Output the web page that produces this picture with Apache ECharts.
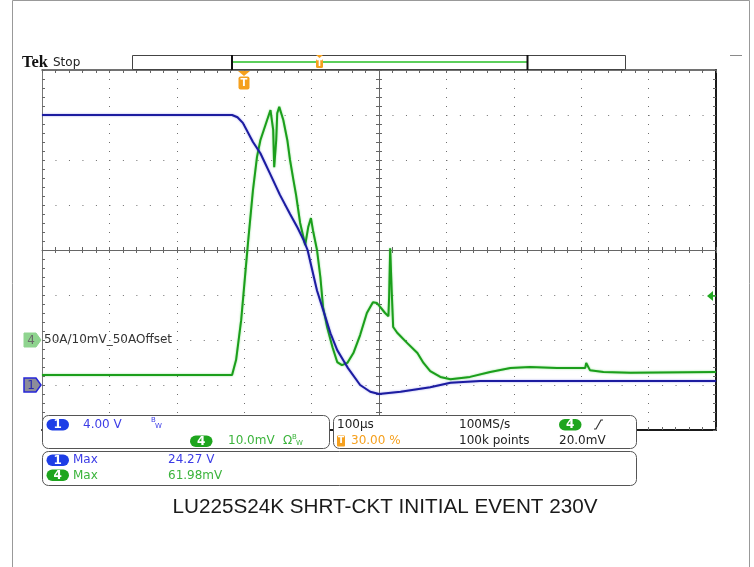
<!DOCTYPE html>
<html>
<head>
<meta charset="UTF-8">
<title>LU225S24K SHRT-CKT INITIAL EVENT 230V</title>
<script src="https://cdn.jsdelivr.net/npm/echarts@6/dist/echarts.min.js"></script>
<style>
  html, body { margin: 0; padding: 0; background: #fff; }
  #chartArea { width: 754px; height: 567px; }
</style>
</head>
<body>
<div id="chartArea"></div>
<script type="text/javascript">
// time in microseconds, 0 = trigger point (30 % of record)
var ch1Time = [-300, -18, -10, -2, 13, 24, 39, 53, 68, 79, 88, 94, 101, 108, 117, 128, 138, 147, 154, 172, 187, 200, 232, 276, 306, 350, 424, 700];
// CH1 volts (4.00 V/div)
var ch1Volt = [24.0, 24.0, 23.8, 23.3, 21.6, 20.6, 18.7, 16.9, 15.2, 14.0, 12.9, 12.0, 10.2, 8.4, 6.7, 4.6, 3.1, 2.2, 1.5, 0.0, -0.6, -0.8, -0.6, -0.2, 0.2, 0.36, 0.36, 0.36];

var ch4Time = [-300, -18, -12, -4.5, 6, 13, 19, 24, 34, 39, 41.5, 43, 44.5, 47.5, 49, 52, 58, 64, 68, 73, 77, 83, 90.5, 95, 99, 102, 108, 113, 117, 123, 131, 138, 145, 153, 162, 172, 182, 191, 197, 202, 209, 214, 215, 216.6, 218.8, 221, 227, 242, 257, 266, 276, 291, 306, 335, 365, 395, 424, 464, 506, 507.4, 513, 533, 573, 700];
// CH4 millivolts (10.0 mV/div)
var ch4mV = [-7.8, -7.8, -4.4, 4.4, 22.2, 33.3, 40.7, 44.4, 48.9, 51.1, 51.3, 46.7, 38.4, 44.4, 50.4, 51.8, 48.9, 44.4, 40.0, 35.6, 32.2, 26.0, 21.1, 25.1, 27.1, 24.4, 20.0, 14.0, 7.3, 2.9, -1.6, -4.9, -5.6, -5.1, -2.9, 1.1, 6.0, 8.4, 8.2, 7.3, 6.0, 5.3, 9.6, 20.4, 11.1, 2.9, 1.6, -0.7, -2.9, -5.1, -6.9, -8.2, -8.7, -8.2, -7.1, -6.2, -6.0, -6.2, -6.2, -5.1, -6.7, -7.1, -7.3, -7.1];

var ch1Scale = 4;    // V/div
var ch1Pos = -3;     // ground marker, divisions from centre
var ch4Scale = 10;   // mV/div
var ch4Pos = -2;

var titleText = 'LU225S24K SHRT-CKT INITIAL EVENT 230V';
var probeLabel = '50A/10mV_50AOffset';

var ch1Data = ch1Time.map(function(t, i) { return [t, ch1Volt[i] / ch1Scale + ch1Pos]; });
var ch4Data = ch4Time.map(function(t, i) { return [t, ch4mV[i] / ch4Scale + ch4Pos]; });

var FONT = 'DejaVu Sans, sans-serif';
var BLUE_TXT = '#3c3ce6';
var GREEN_TXT = '#3cb43c';
var ORANGE = '#f5a01e';

function txt(x, y, s, color, size, extra) {
	var st = { text: s, fill: color, font: (size || 12) + 'px ' + FONT, verticalAlign: 'middle', align: 'left' };
	if (extra) for (var k in extra) st[k] = extra[k];
	return { type: 'text', x: x, y: y, z: 110, style: st };
}
function pill(x, y, w, h, color, label) {
	return [
		{ type: 'rect', z: 110, shape: { x: x, y: y, width: w, height: h, r: h / 2 }, style: { fill: color } },
		txt(x + w / 2, y + h / 2 + 0.5, label, '#fff', 12, { align: 'center', font: 'bold 12px ' + FONT })
	];
}
function box(x, y, w, h) {
	return { type: 'rect', z: 105, shape: { x: x, y: y, width: w, height: h, r: 6 }, style: { fill: '#fff', stroke: '#555', lineWidth: 1 } };
}

var graphics = [
	// outer frame
	{ type: 'polyline', z: 100, shape: { points: [[12.5, 567], [12.5, 0.5], [749.5, 0.5], [749.5, 567]] }, style: { stroke: '#999', lineWidth: 1, fill: null } },
	{ type: 'line', z: 100, shape: { x1: 730, y1: 55.5, x2: 742, y2: 55.5 }, style: { stroke: '#8a8a8a', lineWidth: 1 } },
	// header
	{ type: 'text', x: 22, y: 63, z: 110, style: { text: 'Tek', fill: '#111', font: 'bold 16.5px Liberation Serif, serif', verticalAlign: 'middle' } },
	txt(53, 63, 'Stop', '#222', 12),
	// record bar
	{ type: 'rect', z: 100, shape: { x: 132.5, y: 55.5, width: 493, height: 14 }, style: { fill: '#fff', stroke: '#444', lineWidth: 1 } },
	{ type: 'line', z: 101, shape: { x1: 232, y1: 62, x2: 527, y2: 62 }, style: { stroke: '#5ccf5c', lineWidth: 2 } },
	{ type: 'line', z: 101, shape: { x1: 232, y1: 55, x2: 232, y2: 70 }, style: { stroke: '#111', lineWidth: 2 } },
	{ type: 'line', z: 101, shape: { x1: 527.5, y1: 55, x2: 527.5, y2: 70 }, style: { stroke: '#111', lineWidth: 2 } },
	{ type: 'polygon', z: 102, shape: { points: [[316, 55], [323, 55], [319.5, 58]] }, style: { fill: ORANGE } },
	{ type: 'rect', z: 102, shape: { x: 316, y: 59, width: 7, height: 9, r: 1.5 }, style: { fill: ORANGE } },
	txt(319.5, 63.5, 'T', '#fff', 8, { align: 'center', font: 'bold 8px ' + FONT }),
	// trigger position marker
	{ type: 'polygon', z: 102, shape: { points: [[238, 71], [250, 71], [244, 76]] }, style: { fill: ORANGE } },
	{ type: 'rect', z: 102, shape: { x: 238.5, y: 76.5, width: 11, height: 13, r: 2 }, style: { fill: ORANGE } },
	txt(244, 83, 'T', '#fff', 10, { align: 'center', font: 'bold 10px ' + FONT }),
	// channel markers on the left
	{ type: 'polygon', z: 102, shape: { points: [[24, 333], [36, 333], [41, 340], [36, 347], [24, 347]] }, style: { fill: '#8fd48f', stroke: '#8fd48f' } },
	txt(31, 340.5, '4', '#6a6a6a', 12, { align: 'center' }),
	txt(44, 340, probeLabel, '#333', 12),
	{ type: 'polygon', z: 102, shape: { points: [[24, 378], [36, 378], [41, 385], [36, 392], [24, 392]] }, style: { fill: '#8c8c9a', stroke: '#2626d8', lineWidth: 1.5 } },
	txt(31, 385.5, '1', '#2a2ab0', 12, { align: 'center' }),
	// trigger level arrow on the right
	{ type: 'polygon', z: 102, shape: { points: [[707, 296], [713, 291], [713, 301]] }, style: { fill: '#22aa22' } },
	{ type: 'line', z: 102, shape: { x1: 712, y1: 296, x2: 716, y2: 296 }, style: { stroke: '#22aa22', lineWidth: 1.5 } },
	// info boxes
	box(42.5, 415.5, 287, 33),
	box(333.5, 415.5, 303, 33),
	box(42.5, 451.5, 594, 34),
	txt(83, 424.5, '4.00 V', BLUE_TXT, 12),
	txt(151, 420.5, 'B', BLUE_TXT, 7),
	txt(155, 426.5, 'W', BLUE_TXT, 7),
	txt(228, 441, '10.0mV', GREEN_TXT, 12),
	txt(283, 441, 'Ω', GREEN_TXT, 12),
	txt(292, 437.5, 'B', GREEN_TXT, 7),
	txt(296, 443.5, 'W', GREEN_TXT, 7),
	txt(337, 424.5, '100µs', '#222', 12),
	{ type: 'rect', z: 110, shape: { x: 337, y: 435.5, width: 8, height: 11, r: 1 }, style: { fill: ORANGE } },
	txt(341, 441, 'T', '#fff', 9, { align: 'center', font: 'bold 9px ' + FONT }),
	txt(351, 441, '30.00 %', ORANGE, 12),
	txt(459, 424.5, '100MS/s', '#222', 12),
	txt(459, 441, '100k points', '#222', 12),
	{ type: 'polyline', z: 110, shape: { points: [[594, 429], [596, 429], [601, 420], [603, 420]] }, style: { stroke: '#333', lineWidth: 1.2, fill: null } },
	txt(559, 441, '20.0mV', '#222', 12),
	txt(73, 460, 'Max', BLUE_TXT, 12),
	txt(168, 460, '24.27 V', BLUE_TXT, 12),
	txt(73, 475.5, 'Max', GREEN_TXT, 12),
	txt(168, 475.5, '61.98mV', GREEN_TXT, 12),
	// caption
	{ type: 'text', x: 385, y: 507, z: 110, style: { text: titleText, fill: '#1a1a1a', font: '20.7px Liberation Sans, Arial, sans-serif', align: 'center', verticalAlign: 'middle' } }
];
graphics = graphics.concat(pill(46.5, 419, 22.5, 11.5, '#1e3ee6', '1'));
graphics = graphics.concat(pill(190, 435.5, 22.5, 11.5, '#1ea51e', '4'));
graphics = graphics.concat(pill(559, 419, 22.5, 11.5, '#1ea51e', '4'));
graphics = graphics.concat(pill(46.5, 454.5, 22.5, 11.5, '#1e3ee6', '1'));
graphics = graphics.concat(pill(46.5, 469.5, 22.5, 11.5, '#1ea51e', '4'));

function xAx(pos, offset, lineStyle, tickInside, split) {
	return {
		type: 'value', min: -300, max: 700, interval: 100, position: pos, offset: offset,
		axisLine: { show: !!lineStyle, onZero: false, lineStyle: lineStyle || {} },
		axisTick: { show: true, inside: tickInside, length: 3, lineStyle: { color: '#666' } },
		minorTick: { show: true, splitNumber: 5, length: 3, lineStyle: { color: '#666' } },
		axisLabel: { show: false },
		splitLine: { show: !!split, lineStyle: { color: '#6e6e6e', width: 1, type: [1, 8] } },
		minorSplitLine: { show: false }
	};
}
function yAx(pos, offset, lineStyle, tickInside, split) {
	return {
		type: 'value', min: -4, max: 4, interval: 1, position: pos, offset: offset,
		axisLine: { show: !!lineStyle, onZero: false, lineStyle: lineStyle || {} },
		axisTick: { show: true, inside: tickInside, length: 3, lineStyle: { color: '#666' } },
		minorTick: { show: true, splitNumber: 5, length: 3, lineStyle: { color: '#666' } },
		axisLabel: { show: false },
		splitLine: { show: !!split, lineStyle: { color: '#6e6e6e', width: 1, type: [1, 12.48] } },
		minorSplitLine: { show: false }
	};
}

var myChart = echarts.init(document.getElementById('chartArea'));
var option = {
	animation: false,
	backgroundColor: '#fff',
	grid: { left: 42, top: 70, width: 674, height: 360, show: false },
	xAxis: [
		xAx('bottom', 0, { color: '#1a1a1a', width: 2 }, true, true),
		xAx('top', 0, { color: '#444', width: 1.5 }, true, false),
		xAx('bottom', -180, { color: '#666', width: 1 }, true, false),
		xAx('bottom', -180, null, false, false)
	],
	yAxis: [
		yAx('left', 0, { color: '#777', width: 1 }, true, true),
		yAx('right', 0, { color: '#1a1a1a', width: 2 }, true, false),
		yAx('left', -337, { color: '#666', width: 1 }, true, false),
		yAx('left', -337, null, false, false)
	],
	graphic: { elements: graphics },
	series: [{
		name: 'CH4',
		type: 'line',
		xAxisIndex: 0, yAxisIndex: 0,
		showSymbol: false,
		z: 3,
		lineStyle: { color: '#1b9e1b', width: 2, shadowColor: 'rgba(60,200,60,0.6)', shadowBlur: 2 },
		data: ch4Data
	}, {
		name: 'CH1',
		type: 'line',
		xAxisIndex: 0, yAxisIndex: 0,
		showSymbol: false,
		z: 4,
		lineStyle: { color: '#1c1ca0', width: 2, shadowColor: 'rgba(60,60,220,0.5)', shadowBlur: 2 },
		data: ch1Data
	}]
};
myChart.setOption(option);
</script>
</body>
</html>
